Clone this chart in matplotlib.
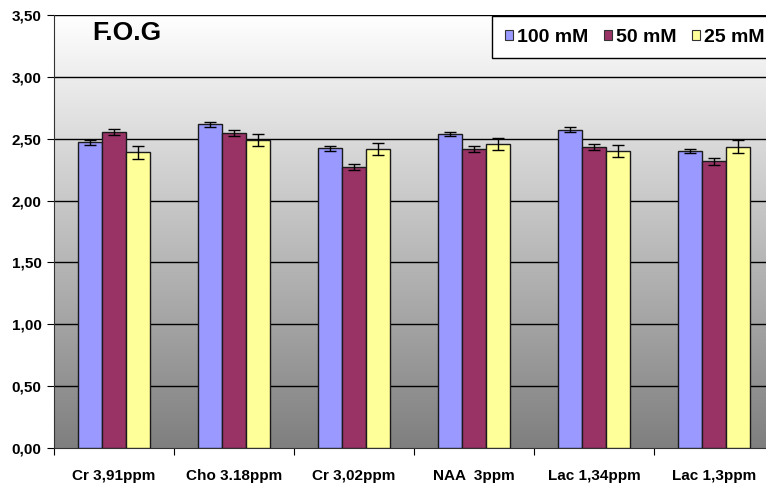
import numpy as np
import matplotlib as mpl
mpl.use('Agg')
import matplotlib.pyplot as plt
from matplotlib.patches import Patch

plt.rcParams.update({'font.family': 'Liberation Sans', 'font.weight': 'bold', 'font.size': 11})

# data
categories = ['Cr 3,91ppm', 'Cho 3.18ppm', 'Cr 3,02ppm', 'NAA  3ppm', 'Lac 1,34ppm', 'Lac 1,3ppm']
series_names = ['100 mM', '50 mM', '25 mM']
vals_100 = [2.47, 2.617, 2.423, 2.54, 2.573, 2.40]
vals_50 = [2.555, 2.547, 2.27, 2.415, 2.43, 2.318]
vals_25 = [2.39, 2.49, 2.415, 2.457, 2.40, 2.436]
err_100 = [0.017, 0.02, 0.02, 0.015, 0.02, 0.016]
err_50 = [0.023, 0.025, 0.023, 0.025, 0.024, 0.028]
err_25 = [0.05, 0.05, 0.05, 0.05, 0.05, 0.053]
yticks = [0.0, 0.5, 1.0, 1.5, 2.0, 2.5, 3.0, 3.5]

colors = ['#9999ff', '#993366', '#ffff99']

fig = plt.figure(figsize=(7.66, 4.83), dpi=100)
ax = fig.add_axes([54 / 766, 35 / 483, 720 / 766, 433 / 483])

# gradient background of the plot area (white at top, grey at bottom)
grad = np.linspace(0, 1, 256).reshape(-1, 1)
cmap = mpl.colors.LinearSegmentedColormap.from_list('bg', ['#ffffff', '#7f7f7f'])
ax.imshow(grad, cmap=cmap, aspect='auto', extent=[0, len(categories), 0, 3.5],
          origin='upper', zorder=0, interpolation='bilinear')

x = np.arange(len(categories)) + 0.5
w = 0.2
for i, (vals, errs) in enumerate(zip([vals_100, vals_50, vals_25], [err_100, err_50, err_25])):
    xs = x + (i - 1) * w
    # faint shadow
    ax.bar(xs + 0.012, vals, w, bottom=-0.02, color='#000000', alpha=0.25, zorder=2, linewidth=0)
    ax.bar(xs, vals, w, color=colors[i], edgecolor='#1a1a1a', linewidth=1, zorder=3)
    ax.errorbar(xs, vals, yerr=errs, fmt='none', ecolor='black', elinewidth=1,
                capsize=4, capthick=1, zorder=4)

for yv in yticks[1:]:
    ax.axhline(yv, color='black', linewidth=1, zorder=1)

ax.set_xlim(0, len(categories))
ax.set_ylim(0, 3.5)
ax.set_yticks(yticks)
ax.yaxis.set_major_formatter(mpl.ticker.FuncFormatter(lambda v, p: ('%.2f' % v).replace('.', ',')))
ax.set_xticks(np.arange(len(categories) + 1))
ax.set_xticklabels([])
ax.set_xticks(x, minor=True)
ax.set_xticklabels(categories, minor=True)
ax.tick_params(axis='x', which='minor', length=0, pad=15)
ax.tick_params(axis='x', which='major', length=5, direction='out')
ax.tick_params(axis='y', length=5, direction='out', pad=4)
for sp in ['top', 'right']:
    ax.spines[sp].set_visible(False)
ax.spines['left'].set_color('#333333')
ax.spines['bottom'].set_color('#333333')

ax.text(0.317, 3.355, 'F.O.G', fontsize=19, fontweight='bold', ha='left', va='center', zorder=5)

handles = [Patch(facecolor=c, edgecolor='#333333', linewidth=0.8) for c in colors]
leg = fig.legend(handles, series_names, loc='upper left', bbox_to_anchor=(492 / 766, 1 - 16 / 483),
                 ncol=3, frameon=True, fancybox=False, edgecolor='black', framealpha=1,
                 handlelength=0.42, handleheight=0.42, handletextpad=0.2, columnspacing=0.8,
                 borderpad=0.65, borderaxespad=0, prop={'size': 14, 'weight': 'bold'})
leg.get_frame().set_linewidth(1)

fig.savefig('out.png', dpi=100)
